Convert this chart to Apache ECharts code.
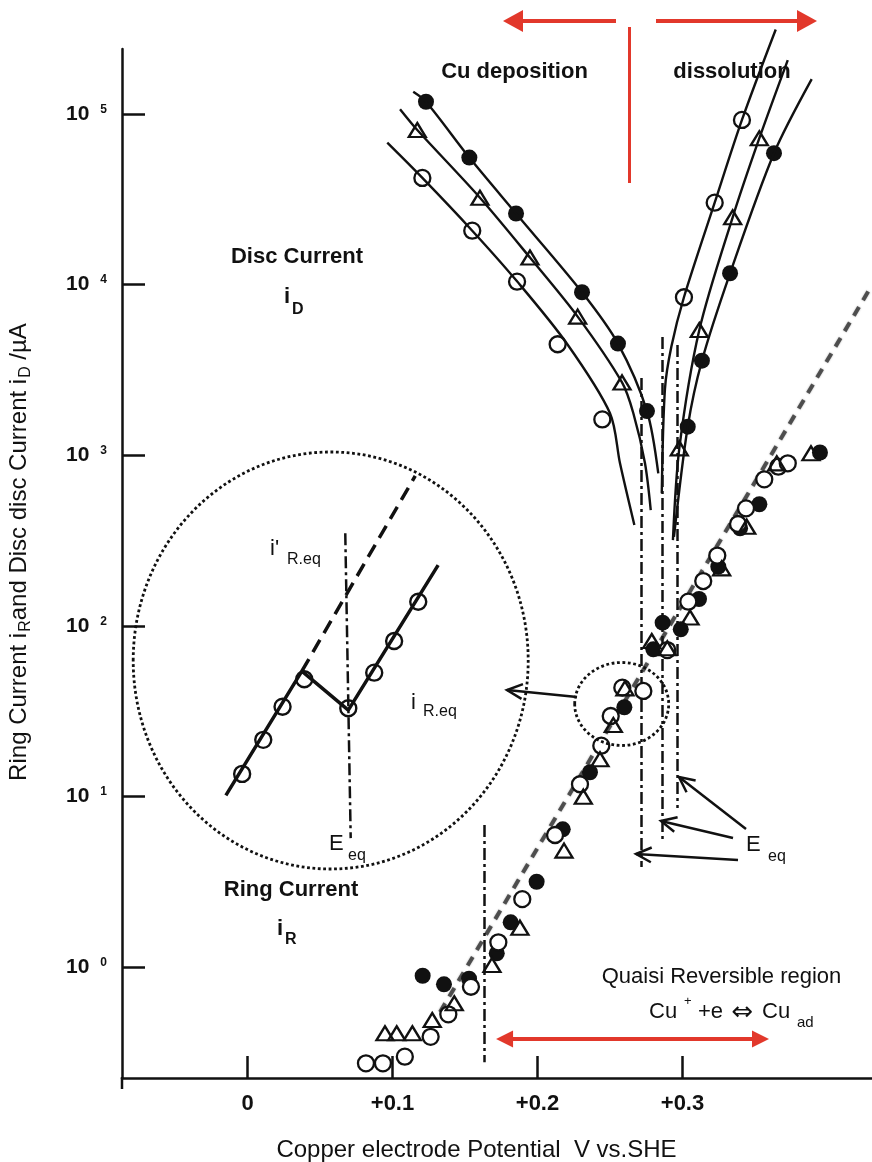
<!DOCTYPE html>
<html>
<head>
<meta charset="utf-8">
<title>Copper ring-disc electrode currents</title>
<script src="https://cdn.jsdelivr.net/npm/echarts@6.0.0/dist/echarts.min.js"></script>
<style>
  html, body { margin: 0; padding: 0; background: #ffffff; }
  #chart { width: 872px; height: 1162px; }
</style>
</head>
<body>
<div id="chart"></div>
<script>
// ---- readings: potential in V vs. SHE, current in µA ----
const potentialTicks = [0, 0.1, 0.2, 0.3];
const currentTicks = [1, 10, 100, 1000, 10000, 100000];

// disc current, Cu deposition branch (measured points)
const discDepFilled = [[0.1231,118000],[0.1530,55500],[0.1852,26100],[0.2307,9020],[0.2555,4510],[0.2755,1815]];
const discDepTri    = [[0.1171,80500],[0.1603,32300],[0.1948,14400],[0.2277,6490],[0.2583,2670]];
const discDepOpen   = [[0.1206,42200],[0.1550,20700],[0.1859,10400],[0.2139,4470],[0.2447,1620]];
// drawn curves of the deposition branch
const curveDepFilled = [[0.1143,135000],[0.1231,118000],[0.1530,55500],[0.1852,26100],[0.2307,9020],[0.2555,4510],[0.2755,1815],[0.2833,783]];
const curveDepTri    = [[0.1052,106600],[0.1171,80500],[0.1603,32300],[0.1948,14400],[0.2277,6490],[0.2583,2670],[0.2661,1762],[0.2741,900],[0.2781,477]];
const curveDepOpen   = [[0.0964,67900],[0.1206,42200],[0.1550,20700],[0.1859,10450],[0.2201,4530],[0.2500,1762],[0.2569,896],[0.2668,390]];

// disc current, Cu dissolution branch (measured points)
const discDisOpen   = [[0.3010,8430],[0.3222,30200],[0.3410,92300]];
const discDisTri    = [[0.2978,1097],[0.3116,5420],[0.3346,24800],[0.3530,72100]];
const discDisFilled = [[0.3036,1469],[0.3134,3580],[0.3328,11650],[0.3631,58900]];
// drawn curves of the dissolution branch
const curveDisOpen   = [[0.2857,598],[0.2879,2445],[0.2923,4325],[0.3010,8430],[0.3222,30200],[0.3410,92300],[0.3643,313000]];
const curveDisTri    = [[0.2934,318],[0.2978,1097],[0.3116,5420],[0.3346,24800],[0.3530,72100],[0.3726,207000]];
const curveDisFilled = [[0.2941,332],[0.3036,1469],[0.3134,3580],[0.3328,11650],[0.3631,58900],[0.3891,160000]];

// ring current (measured points)
const ringFilled = [[0.1208,0.889],[0.1355,0.792],[0.1528,0.854],[0.1719,1.203],[0.1815,1.828],[0.1994,3.16],[0.2174,6.41],[0.2362,13.85],[0.2599,33.3],[0.2799,72.8],[0.2863,104.3],[0.2988,95.4],[0.3114,143.6],[0.3247,222],[0.3397,373],[0.3530,516],[0.3948,1037]];
const ringTri = [[0.0948,0.409],[0.1029,0.409],[0.1137,0.409],[0.1274,0.489],[0.1426,0.613],[0.1686,1.027],[0.1879,1.70],[0.2183,4.81],[0.2316,9.96],[0.2431,16.5],[0.2523,26.2],[0.2603,43.0],[0.2788,81.4],[0.2895,73.8],[0.3052,111.9],[0.3270,217],[0.3443,381],[0.3650,896],[0.3886,1026]];
const ringOpen = [[0.0817,0.2727],[0.0934,0.2727],[0.1085,0.298],[0.1263,0.390],[0.1385,0.528],[0.1541,0.766],[0.1730,1.396],[0.1895,2.50],[0.2121,5.94],[0.2293,11.78],[0.2440,19.83],[0.2505,29.6],[0.2585,43.4],[0.2730,41.5],[0.2895,72.1],[0.3040,138.5],[0.3143,183],[0.3240,258],[0.3383,395],[0.3438,488],[0.3564,722],[0.3661,856],[0.3726,896]];

// straight-line trend of the ring current
const ringTrend = [[0.1328,0.545],[0.4300,9700]];
// equilibrium potentials (vertical markers)
const eqLines = [
  [[0.2714,2836],[0.2714,3.86]],
  [[0.2859,4930],[0.2859,5.40]],
  [[0.2966,4425],[0.2966,8.55]],
  [[0.1631,6.80],[0.1631,0.277]]
];
// extent of the quasi reversible region
const quasiRegion = [[0.1773,0.378],[0.3538,0.378]];

// magnified view around E_eq
const insetCurve = [[0.2406,24.1],[0.2532,33.8],[0.2609,30.4],[0.2758,45.1]];
const insetPoints = [[0.2433,25.55],[0.2468,28.03],[0.2500,30.68],[0.2536,33.06],[0.2609,30.55],[0.2652,33.66],[0.2685,36.69],[0.2725,40.83]];
const insetExtension = [[0.2532,33.8],[0.2720,57.5]];
const insetEq = [[0.2604,49.2],[0.2613,21.45]];

// ---- styling ----
const FONT = '"Liberation Sans", Arial, Helvetica, sans-serif';
const INK = '#111111';
const RED = '#e2382b';
const DASH_DOT = [12, 4, 3, 4];

const filledMark = { symbol: 'circle', symbolSize: 16, itemStyle: { color: INK, opacity: 1 } };
const openMark = { symbol: 'circle', symbolSize: 16, itemStyle: { color: '#ffffff', borderColor: INK, borderWidth: 2.3, opacity: 1 } };
const triMark = { symbol: 'triangle', symbolSize: [17, 14], itemStyle: { color: 'rgba(255,255,255,0)', borderColor: INK, borderWidth: 2.3, opacity: 1 } };

function curve(data) {
  return { type: 'line', data: data, smooth: 0.3, symbol: 'none', showSymbol: false, clip: false,
           silent: true, z: 6, lineStyle: { color: INK, width: 2.4 } };
}
function points(data, mark, z) {
  return Object.assign({ type: 'scatter', data: data, z: z, silent: true }, mark);
}

// open arrowhead (two strokes) at tip, pointing away from 'from'
function arrowHead(tip, from, len, ang) {
  const dx = from[0] - tip[0], dy = from[1] - tip[1];
  const d = Math.hypot(dx, dy), ux = dx / d, uy = dy / d;
  const rot = a => [tip[0] + len * (ux * Math.cos(a) - uy * Math.sin(a)),
                    tip[1] + len * (ux * Math.sin(a) + uy * Math.cos(a))];
  return [rot(ang), tip, rot(-ang)];
}
function arrow(from, tip) {
  return [
    { type: 'line', z: 50, shape: { x1: from[0], y1: from[1], x2: tip[0], y2: tip[1] }, style: { stroke: INK, lineWidth: 2.5 } },
    { type: 'polyline', z: 50, shape: { points: arrowHead(tip, from, 17, 0.45) }, style: { stroke: INK, lineWidth: 2.5, fill: null } }
  ];
}
function text(x, y, str, size, weight, align, family) {
  const a = align || 'left';
  return { type: 'text', x: x, y: y, z: 50,
           style: { text: str, fill: INK, font: (weight || 'normal') + ' ' + size + 'px ' + (family || FONT),
                    align: a, textAlign: a, verticalAlign: 'middle', textVerticalAlign: 'middle' } };
}

const graphics = [
  // deposition / dissolution direction markers above the plot
  { type: 'line', z: 50, shape: { x1: 616, y1: 21, x2: 520, y2: 21 }, style: { stroke: RED, lineWidth: 4 } },
  { type: 'polygon', z: 50, shape: { points: [[503, 21], [523, 10], [523, 32]] }, style: { fill: RED } },
  { type: 'line', z: 50, shape: { x1: 656, y1: 21, x2: 800, y2: 21 }, style: { stroke: RED, lineWidth: 4 } },
  { type: 'polygon', z: 50, shape: { points: [[817, 21], [797, 10], [797, 32]] }, style: { fill: RED } },
  { type: 'line', z: 50, shape: { x1: 629.5, y1: 27, x2: 629.5, y2: 183 }, style: { stroke: RED, lineWidth: 3 } },
  text(514.5, 72, 'Cu deposition', 22, 'bold', 'center'),
  text(732, 72, 'dissolution', 22, 'bold', 'center'),
  text(297, 257, 'Disc Current', 22, 'bold', 'center'),
  text(284, 297, 'i', 22, 'bold'),
  text(292, 310, 'D', 16, 'bold'),
  text(291, 890, 'Ring Current', 22, 'bold', 'center'),
  text(277, 929, 'i', 22, 'bold'),
  text(285, 940, 'R', 16, 'bold'),
  text(721.5, 977, 'Quaisi Reversible region', 22, 'normal', 'center'),
  text(649, 1012, 'Cu', 22),
  text(684, 1001, '+', 13),
  text(698, 1012, '+e', 22),
  text(742.5, 1013, '\u21D4', 26, 'normal', 'center', '"DejaVu Sans", sans-serif'),
  text(762, 1012, 'Cu', 22),
  text(797, 1023, 'ad', 15),
  text(746, 845, 'E', 22),
  text(768, 857, 'eq', 16),
  // magnified view frame and its source region
  { type: 'ellipse', z: 40, shape: { cx: 330.7, cy: 660.5, rx: 197.5, ry: 208.5 },
    style: { stroke: INK, lineWidth: 2.8, lineDash: [2.8, 2.6], fill: null } },
  { type: 'ellipse', z: 40, shape: { cx: 621.7, cy: 704, rx: 47, ry: 41.5 },
    style: { stroke: INK, lineWidth: 2.8, lineDash: [2.8, 2.6], fill: null } },
  text(270, 549, "i'", 22),
  text(287, 560, 'R.eq', 16),
  text(411, 703, 'i', 22),
  text(423, 712, 'R.eq', 16),
  text(329, 844, 'E', 22),
  text(348, 856, 'eq', 16),
  // y axis runs slightly past the x axis
  { type: 'line', z: 50, shape: { x1: 122, y1: 1077, x2: 122, y2: 1089 }, style: { stroke: INK, lineWidth: 2.5 } }
].concat(
  arrow([577, 697], [507, 690]),
  arrow([746, 829], [679, 777]),
  arrow([733, 838], [661, 821]),
  arrow([738, 860], [636, 854])
);

const chart = echarts.init(document.getElementById('chart'), null, { renderer: 'canvas' });
chart.setOption({
  animation: false,
  backgroundColor: '#ffffff',
  textStyle: { fontFamily: FONT },
  grid: [
    { left: 122, right: 0, top: 49, bottom: 84, containLabel: false, outerBoundsMode: 'none' },
    { left: 133, top: 452, width: 395, height: 417, containLabel: false, outerBoundsMode: 'none' }
  ],
  xAxis: [
    {
      type: 'value', gridIndex: 0, min: -0.08655, max: 0.43069,
      axisLine: { onZero: false, lineStyle: { color: INK, width: 2.5 } },
      axisTick: { inside: true, length: 22, customValues: potentialTicks, lineStyle: { color: INK, width: 2.5 } },
      axisLabel: { customValues: potentialTicks, margin: 15, color: INK, fontFamily: FONT, fontSize: 22, fontWeight: 'bold',
                   formatter: v => (v === 0 ? '0' : '+' + v.toFixed(1)) },
      splitLine: { show: false },
      name: 'Copper electrode Potential  V vs.SHE', nameLocation: 'middle', nameGap: 60,
      nameTextStyle: { color: INK, fontFamily: FONT, fontSize: 24, padding: [0, 41, 0, 0] }
    },
    { type: 'value', gridIndex: 1, min: 0.2252, max: 0.2907, show: false }
  ],
  yAxis: [
    {
      type: 'log', logBase: 10, gridIndex: 0, min: 0.2236, max: 240400,
      axisLine: { onZero: false, lineStyle: { color: INK, width: 2.5 } },
      axisTick: { inside: true, length: 23, customValues: currentTicks, lineStyle: { color: INK, width: 2.5 } },
      axisLabel: {
        customValues: currentTicks, margin: 15, color: INK, fontFamily: FONT,
        formatter: v => '{b|10}{s|' + Math.round(Math.log10(v)) + '}',
        rich: {
          b: { fontSize: 21, fontWeight: 'bold', color: INK, fontFamily: FONT },
          s: { fontSize: 12, fontWeight: 'bold', color: INK, fontFamily: FONT, padding: [0, 0, 9, 11] }
        }
      },
      splitLine: { show: false },
      name: 'Ring Current i{s|R}and Disc disc Current i{s|D} /\u00B5A', nameLocation: 'middle', nameGap: 88,
      nameTextStyle: { color: INK, fontFamily: FONT, fontSize: 24, padding: [0, 0, 0, 23],
                       rich: { s: { fontSize: 16, color: INK, fontFamily: FONT, padding: [14, 0, 0, 1] } } }
    },
    { type: 'log', logBase: 10, gridIndex: 1, min: 19.72, max: 61.38, show: false }
  ],
  series: [
    // ring current trend and equilibrium potentials
    { type: 'line', data: ringTrend, symbol: 'none', silent: true, z: 2,
      lineStyle: { color: '#3a3a3a', width: 4, type: [10, 8], opacity: 0.85, shadowBlur: 2, shadowColor: 'rgba(0,0,0,0.35)' } },
    { type: 'lines', coordinateSystem: 'cartesian2d', silent: true, z: 3,
      data: eqLines.map(c => ({ coords: c })),
      lineStyle: { color: INK, width: 2.5, type: DASH_DOT, opacity: 1 } },
    { type: 'lines', coordinateSystem: 'cartesian2d', silent: true, z: 3,
      symbol: ['triangle', 'triangle'], symbolSize: [17, 17],
      data: [{ coords: quasiRegion }],
      lineStyle: { color: RED, width: 4, opacity: 1 }, itemStyle: { color: RED } },

    // disc current curves and points
    curve(curveDepFilled), curve(curveDepTri), curve(curveDepOpen),
    curve(curveDisFilled), curve(curveDisTri), curve(curveDisOpen),
    points(discDepFilled, filledMark, 4), points(discDepTri, triMark, 4), points(discDepOpen, openMark, 4),
    points(discDisFilled, filledMark, 4), points(discDisTri, triMark, 4), points(discDisOpen, openMark, 4),

    // ring current points
    points(ringFilled, filledMark, 3),
    points(ringOpen, openMark, 4),
    points(ringTri, triMark, 5),

    // magnified view
    { type: 'line', xAxisIndex: 1, yAxisIndex: 1, data: insetCurve, symbol: 'none', silent: true, z: 7,
      lineStyle: { color: INK, width: 3.5 } },
    { type: 'line', xAxisIndex: 1, yAxisIndex: 1, data: insetExtension, symbol: 'none', silent: true, z: 7,
      lineStyle: { color: INK, width: 3.5, type: [14, 8] } },
    { type: 'line', xAxisIndex: 1, yAxisIndex: 1, data: insetEq, symbol: 'none', silent: true, z: 7,
      lineStyle: { color: INK, width: 2.5, type: DASH_DOT } },
    { type: 'scatter', xAxisIndex: 1, yAxisIndex: 1, data: insetPoints, symbol: 'circle', symbolSize: 16, silent: true, z: 8,
      itemStyle: { color: 'rgba(255,255,255,0)', borderColor: INK, borderWidth: 2.4, opacity: 1 } }
  ],
  graphic: graphics
});
</script>
</body>
</html>
